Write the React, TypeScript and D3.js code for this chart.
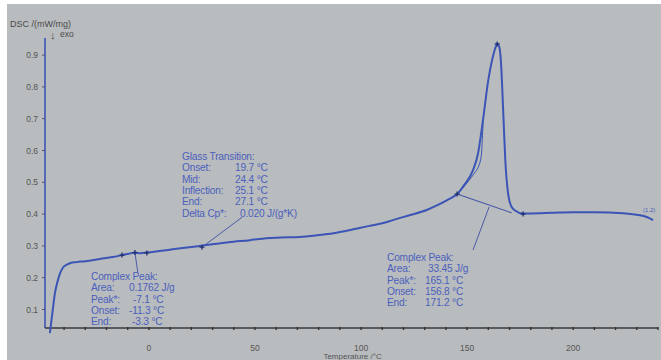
import React from "react";
import * as d3 from "d3";

// DSC curve: temperature (°C), DSC (mW/mg)
const temps = [-46.7, -45.5, -44.3, -43, -42, -40.5, -38.7, -37, -34, -30, -23, -17, -12.7, -9, -6.6, -4, -1, 5, 12, 18, 24, 30, 40, 47.6, 52, 60, 71, 80, 87, 95, 104, 110, 115, 122, 131, 136, 140.6, 145.3, 149, 152.8, 155.2, 157.5, 160, 161.8, 163.2, 164.2, 165.2, 165.9, 167, 168, 169.3, 171, 173, 175, 180, 190, 200, 210, 223.6, 230, 235, 237.7];
const dsc = [0.026, 0.09, 0.152, 0.19, 0.212, 0.232, 0.241, 0.246, 0.249, 0.252, 0.259, 0.265, 0.271, 0.276, 0.279, 0.277, 0.279, 0.284, 0.29, 0.295, 0.3, 0.305, 0.313, 0.318, 0.322, 0.326, 0.328, 0.334, 0.34, 0.35, 0.363, 0.371, 0.381, 0.395, 0.413, 0.428, 0.444, 0.463, 0.495, 0.538, 0.592, 0.696, 0.822, 0.885, 0.92, 0.935, 0.925, 0.885, 0.727, 0.57, 0.466, 0.422, 0.41, 0.403, 0.402, 0.404, 0.406, 0.406, 0.403, 0.398, 0.39, 0.381];

// secondary construction line on the rising flank of the big peak
const fitTemps = [145.3, 149, 152.5, 155.3, 156.5, 157.1, 157.6];
const fitDsc = [0.463, 0.49, 0.52, 0.548, 0.575, 0.625, 0.70];

// markers
const markerT = [-12.7, -6.6, -1, 25, 145.3, 164.2, 176.4];
const markerV = [0.271, 0.279, 0.278, 0.296, 0.463, 0.935, 0.40];

const xTicks = [0, 50, 100, 150, 200];
const xMinor = d3.range(-40, 241, 10);
const yTicks = [0.1, 0.2, 0.3, 0.4, 0.5, 0.6, 0.7, 0.8, 0.9];

// annotation blocks: [label, value]
const peak1Labels = ["Complex Peak:", "Area:", "Peak*:", "Onset:", "End:"];
const peak1Values = ["", "0.1762 J/g", "-7.1 °C", "-11.3 °C", "-3.3 °C"];
const glassLabels = ["Glass Transition:", "Onset:", "Mid:", "Inflection:", "End:", "Delta Cp*:"];
const glassValues = ["", "19.7 °C", "24.4 °C", "25.1 °C", "27.1 °C", "0.020 J/(g*K)"];
const peak2Labels = ["Complex Peak:", "Area:", "Peak*:", "Onset:", "End:"];
const peak2Values = ["", "33.45 J/g", "165.1 °C", "156.8 °C", "171.2 °C"];

const W = 661, H = 360;
const CURVE = "#3b55b6";
const TEXT = "#4c5fbd";
const GRAY = "#b9bcbe";

export default function App() {
  const x = d3.scaleLinear().domain([-49, 240]).range([45, 658]);
  const y = d3.scaleLinear().domain([0, 1]).range([341.3, 23.3]);
  const yAxisBottom = 328;
  const line = d3.line<number>().x((_, i) => x(temps[i])).y((_, i) => y(dsc[i])).curve(d3.curveMonotoneX);
  const fitLine = d3.line<number>().x((_, i) => x(fitTemps[i])).y((_, i) => y(fitDsc[i])).curve(d3.curveCatmullRom);

  const block = (labels: string[], values: string[], lx: number, vx: number, top: number, valueOffsets?: number[]) =>
    labels.map((l, i) => (
      <g key={l + i}>
        <text x={lx} y={top + i * 11.3} fill={TEXT} fontSize={10.2} letterSpacing={-0.2}>{l}</text>
        {values[i] && <text x={vx + (valueOffsets ? valueOffsets[i] : 0)} y={top + i * 11.3} fill={TEXT} fontSize={10.2} letterSpacing={-0.2}>{values[i]}</text>}
      </g>
    ));

  return (
    <div style={{ position: "absolute", left: 0, top: 0 }}>
      <svg width={W} height={H} style={{ display: "block", fontFamily: "'Liberation Sans', Arial, sans-serif" }}>
        <rect x={0} y={0} width={W} height={H} fill="#ffffff" />
        <rect x={7} y={4} width={W - 7} height={H - 4} fill={GRAY} />

        {/* axis titles */}
        <text x={10} y={27} fontSize={9} fill="#4a4a4a">DSC /(mW/mg)</text>
        <text x={50} y={39} fontSize={11} fill="#4a4a4a">↓</text>
        <text x={60} y={37} fontSize={8.5} fill="#4a4a4a">exo</text>

        {/* y axis */}
        {yTicks.map(t => (
          <g key={t}>
            <line x1={42} x2={45} y1={y(t)} y2={y(t)} stroke="#555" strokeWidth={1} />
            <text x={38} y={y(t) + 3} fontSize={8.5} fill="#555" textAnchor="end">{t.toFixed(1)}</text>
          </g>
        ))}
        <line x1={45} x2={45} y1={38} y2={yAxisBottom} stroke={CURVE} strokeWidth={1.6} />

        {/* x axis */}
        <line x1={45} x2={658} y1={yAxisBottom} y2={yAxisBottom} stroke="#3a3a3a" strokeWidth={1.4} />
        {xMinor.map(t => (
          <line key={t} x1={x(t)} x2={x(t)} y1={yAxisBottom - 1} y2={yAxisBottom + 2} stroke="#333" strokeWidth={1.4} />
        ))}
        {xTicks.map(t => (
          <text key={t} x={x(t)} y={351} fontSize={8.5} fill="#555" textAnchor="middle">{t}</text>
        ))}
        <text x={x(96)} y={359} fontSize={8} fill="#555" textAnchor="middle">Temperature /°C</text>

        {/* construction lines */}
        <path d={fitLine(fitTemps) || ""} fill="none" stroke={CURVE} strokeWidth={1} />
        <line x1={x(145.3)} y1={y(0.463)} x2={x(171)} y2={y(0.404)} stroke="#4455aa" strokeWidth={1.1} />
        <line x1={x(160.4)} y1={y(0.423)} x2={x(152.8)} y2={y(0.287)} stroke="#4a5aa8" strokeWidth={1} />
        <line x1={x(25)} y1={y(0.296)} x2={x(43.9)} y2={y(0.39)} stroke="#4a5aa8" strokeWidth={1} />
        <line x1={x(-6.6)} y1={y(0.279)} x2={x(-5.2)} y2={y(0.215)} stroke="#4a5aa8" strokeWidth={1} />

        {/* main curve */}
        <path d={line(temps) || ""} fill="none" stroke={CURVE} strokeWidth={2} />

        {markerT.map((t, i) => (
          <path key={t} d={`M${x(t) - 2.5},${y(markerV[i])}h5M${x(t)},${y(markerV[i]) - 2.5}v5`} stroke="#1f2f70" strokeWidth={1.3} />
        ))}

        <text x={643} y={212} fontSize={6} fill={TEXT}>(1.2)</text>

        {/* annotation blocks */}
        {block(peak1Labels, peak1Values, 91, 129, 280, [0, 0, 4, 0, 3])}
        {block(glassLabels, glassValues, 182, 235, 160, [0, 0, 0, 0, 0, 5])}
        {block(peak2Labels, peak2Values, 387, 425, 261, [0, 3, 0, 0, 0])}
      </svg>
    </div>
  );
}
